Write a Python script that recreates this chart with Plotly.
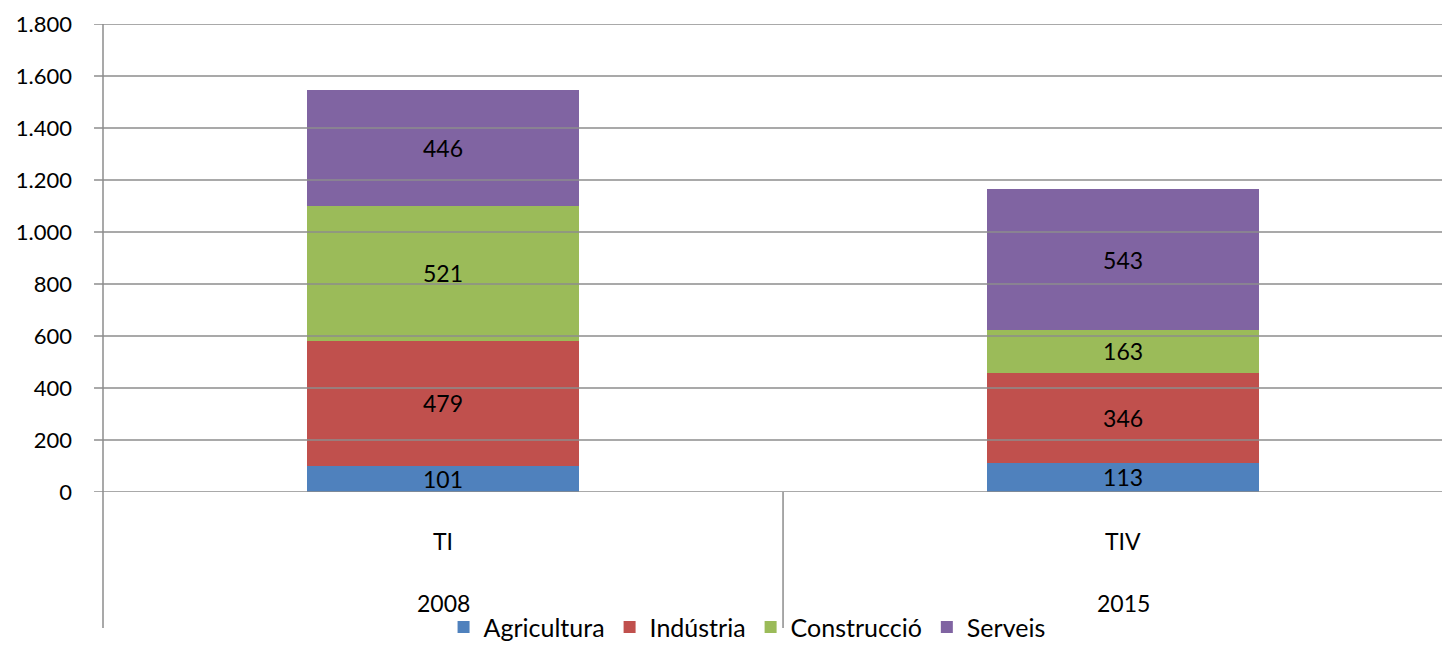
import plotly.graph_objects as go

periods = ["TI", "TIV"]
years = ["2008", "2015"]
series_names = ["Agricultura", "Indústria", "Construcció", "Serveis"]
agricultura = [101, 113]
industria = [479, 346]
construccio = [521, 163]
serveis = [446, 543]
colors = ["#4F81BD", "#C0504D", "#9BBB59", "#8064A2"]
y_ticks = [0, 200, 400, 600, 800, 1000, 1200, 1400, 1600, 1800]

FONT = "Lato"
values = [agricultura, industria, construccio, serveis]
xpos = [0, 1]

fig = go.Figure()
for name, vals, col in zip(series_names, values, colors):
    fig.add_trace(go.Bar(
        x=xpos, y=vals, name=name, marker=dict(color=col, line=dict(width=0)),
        width=0.4, text=[str(v) for v in vals], textposition="inside",
        insidetextanchor="middle", constraintext="none",
        textfont=dict(family=FONT, size=23, color="black"),
    ))

grid = "#8c8c8c"
shapes = []
for t in y_ticks:
    shapes.append(dict(type="line", xref="paper", yref="y", x0=-0.0067, x1=1, y0=t, y1=t,
                       line=dict(color=grid, width=1.5)))
shapes.append(dict(type="line", xref="paper", yref="paper", x0=0, x1=0, y0=1, y1=-0.2906,
                   line=dict(color=grid, width=1.5)))
shapes.append(dict(type="line", xref="x", yref="paper", x0=0.5, x1=0.5, y0=0, y1=-0.2906,
                   line=dict(color=grid, width=1.5)))

annotations = []
for xp, p, yr in zip(xpos, periods, years):
    annotations.append(dict(x=xp, y=-0.1047, xref="x", yref="paper", text=p, showarrow=False,
                            font=dict(family=FONT, size=23, color="black"), yanchor="middle"))
    annotations.append(dict(x=xp, y=-0.237, xref="x", yref="paper", text=yr, showarrow=False,
                            font=dict(family=FONT, size=23, color="black"), yanchor="middle"))

fig.update_layout(
    barmode="stack",
    width=1442, height=646,
    margin=dict(l=103, r=0, t=24, b=154),
    paper_bgcolor="white", plot_bgcolor="white",
    separators=",.",
    showlegend=True,
    legend=dict(orientation="h", x=0.481, xanchor="center", yref="container", y=0.029,
                yanchor="middle", font=dict(family=FONT, size=25, color="black"),
                traceorder="normal", bgcolor="rgba(0,0,0,0)"),
    xaxis=dict(range=[-0.5, 1.469], showticklabels=False, showgrid=False, zeroline=False,
               ticks="", fixedrange=True),
    yaxis=dict(range=[0, 1800], tickvals=y_ticks, tickformat=",d", showgrid=False,
               zeroline=False, ticks="", ticklabelstandoff=30, fixedrange=True,
               tickfont=dict(family=FONT, size=22, color="black")),
    shapes=shapes,
    annotations=annotations,
    font=dict(family=FONT),
)

fig.write_html("out.html", config={"displayModeBar": False},
               post_script="document.body.style.margin='0';document.body.style.overflow='hidden';")
